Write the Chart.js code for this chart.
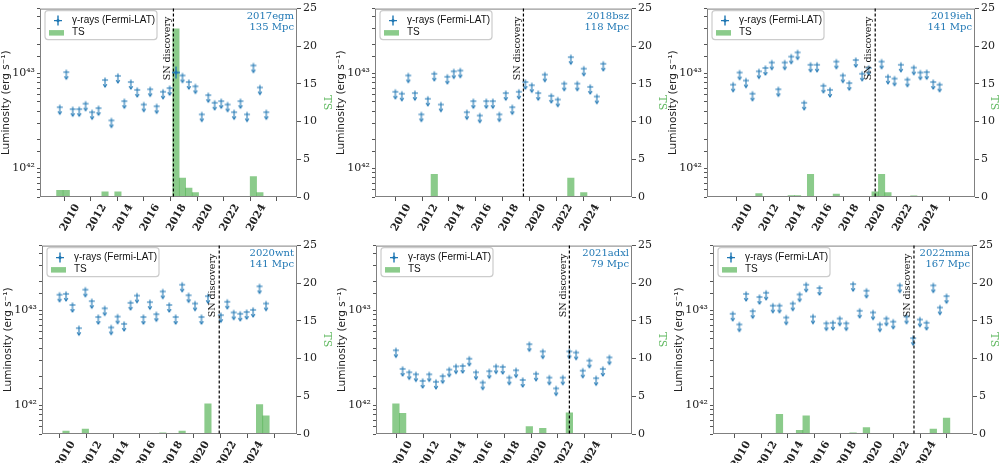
<!DOCTYPE html>
<html>
<head>
<meta charset="utf-8">
<script src="https://cdn.jsdelivr.net/npm/chart.js@4/dist/chart.umd.min.js"></script>
<style>
  body { margin: 0; background: #fff; }
  #wrap { position: relative; width: 1000px; height: 463px; overflow: hidden; }
  canvas { position: absolute; }
</style>
</head>
<body>
<div id="wrap"></div>
<script>
// luminosity values are in units of 1e42 erg/s (upper limits unless marked as detection)
const names = ["2017egm", "2018bsz", "2019ieh", "2020wnt", "2021adxl", "2022mma"];
const distances = ["135 Mpc", "118 Mpc", "141 Mpc", "141 Mpc", "79 Mpc", "167 Mpc"];
const snDates = [2017.22, 2018.53, 2019.41, 2020.9, 2021.85, 2022.52];
const detectionIndex = [18, -1, -1, -1, -1, -1];
const xTickYears = [2010, 2012, 2014, 2016, 2018, 2020, 2022, 2024];
const tsTicks = [0, 5, 10, 15, 20, 25];

const times2017egm = [2008.68, 2009.17, 2009.65, 2010.14, 2010.62, 2011.11, 2011.59, 2012.08, 2012.56, 2013.05, 2013.53, 2014.02, 2014.50, 2014.99, 2015.47, 2015.96, 2016.44, 2016.93, 2017.41, 2017.90, 2018.38, 2018.87, 2019.35, 2019.84, 2020.32, 2020.81, 2021.29, 2021.78, 2022.26, 2022.75, 2023.23, 2023.72, 2024.20];
const lum2017egm = [4.4, 10.3, 4.2, 4.2, 4.8, 3.9, 4.3, 8.5, 3.2, 9.4, 5.1, 8.1, 6.7, 4.7, 6.8, 4.5, 6.4, 7.0, 10.2, 9.5, 8.1, 7.3, 3.7, 5.9, 4.9, 5.1, 4.7, 3.9, 5.1, 3.7, 12.1, 7.1, 3.9];
const ts2017egm = [0.9, 0.9, 0, 0, 0, 0, 0, 0.7, 0, 0.7, 0, 0, 0, 0, 0, 0, 0, 0.1, 22.3, 2.5, 1.2, 0.6, 0, 0, 0, 0, 0, 0, 0, 0, 2.7, 0.6, 0];

const times2018bsz = [2009.02, 2009.50, 2009.98, 2010.47, 2010.95, 2011.43, 2011.91, 2012.40, 2012.88, 2013.36, 2013.84, 2014.33, 2014.81, 2015.29, 2015.77, 2016.26, 2016.74, 2017.22, 2017.70, 2018.19, 2018.67, 2019.15, 2019.63, 2020.12, 2020.60, 2021.08, 2021.56, 2022.05, 2022.53, 2023.01, 2023.49, 2023.98, 2024.46];
const lum2018bsz = [6.4, 6.1, 9.5, 6.2, 3.7, 5.4, 9.9, 4.7, 9.2, 10.5, 10.7, 3.9, 5.1, 3.6, 5.1, 5.1, 3.7, 6.2, 4.4, 6.4, 8.1, 7.5, 6.2, 9.7, 5.8, 5.3, 7.8, 14.8, 7.8, 11.2, 7.2, 5.7, 12.6];
const ts2018bsz = [0, 0, 0, 0, 0, 0, 3.0, 0, 0, 0, 0, 0, 0.05, 0, 0, 0, 0, 0, 0, 0, 0, 0, 0, 0, 0, 0, 0, 2.5, 0, 0.6, 0, 0, 0];

const times2019ieh = [2008.73, 2009.22, 2009.70, 2010.19, 2010.67, 2011.16, 2011.64, 2012.13, 2012.61, 2013.10, 2013.58, 2014.07, 2014.55, 2015.04, 2015.52, 2016.01, 2016.49, 2016.98, 2017.46, 2017.95, 2018.43, 2018.92, 2019.40, 2019.89, 2020.37, 2020.86, 2021.34, 2021.83, 2022.31, 2022.80, 2023.28, 2023.77, 2024.25];
const lum2019ieh = [7.6, 10.2, 8.4, 6.1, 10.5, 11.4, 13.0, 6.8, 13.0, 15.0, 16.6, 4.9, 12.3, 12.3, 7.4, 6.7, 13.3, 9.5, 7.9, 13.8, 9.9, 11.4, null, 13.3, 9.2, 8.8, 12.3, 8.6, 11.5, 10.2, 10.3, 8.1, 7.6];
const ts2019ieh = [0, 0, 0, 0, 0.45, 0, 0, 0, 0, 0.2, 0.2, 0, 3.0, 0.1, 0, 0, 0.4, 0, 0, 0, 0, 0, 0.7, 3.0, 0.6, 0, 0, 0, 0.15, 0, 0, 0, 0];

const times2020wnt = [2009.02, 2009.50, 2009.98, 2010.46, 2010.94, 2011.42, 2011.90, 2012.38, 2012.86, 2013.34, 2013.82, 2014.30, 2014.78, 2015.26, 2015.74, 2016.22, 2016.70, 2017.18, 2017.66, 2018.14, 2018.62, 2019.10, 2019.58, 2020.06, 2020.54, 2021.02, 2021.50, 2021.98, 2022.46, 2022.94, 2023.42, 2023.90, 2024.38];
const lum2020wnt = [14.6, 14.9, 11.4, 6.5, 16.5, 12.5, 8.5, 10.5, 6.6, 8.6, 7.2, 12.0, 14.3, 8.5, 12.2, 9.1, 15.8, 11.4, 8.5, 18.6, 14.4, 11.8, 8.5, 14.1, null, 8.9, 12.3, 9.5, 9.2, 9.6, 10.1, 17.9, 11.8];
const ts2020wnt = [0, 0.4, 0, 0, 0.65, 0, 0, 0, 0, 0, 0, 0, 0, 0, 0, 0, 0.15, 0, 0, 0.4, 0, 0, 0, 4.0, 0, 0, 0, 0, 0, 0, 0, 3.9, 2.4];

const times2021adxl = [2008.94, 2009.44, 2009.93, 2010.43, 2010.93, 2011.42, 2011.92, 2012.42, 2012.91, 2013.41, 2013.91, 2014.40, 2014.90, 2015.40, 2015.89, 2016.39, 2016.89, 2017.38, 2017.88, 2018.38, 2018.87, 2019.37, 2019.87, 2020.36, 2020.86, 2021.36, 2021.85, 2022.35, 2022.85, 2023.34, 2023.84, 2024.34, 2024.83];
const lum2021adxl = [3.8, 2.42, 2.23, 2.12, 1.81, 2.12, 1.77, 2.03, 2.38, 2.57, 2.6, 3.1, 2.23, 1.74, 2.29, 2.57, 2.54, 1.96, 2.34, 1.85, 4.4, 2.15, 3.7, 1.96, 1.51, 1.96, 3.7, 3.6, 2.32, 2.96, 1.93, 2.42, 3.2];
const ts2021adxl = [4.0, 2.75, 0, 0, 0, 0, 0, 0, 0, 0, 0, 0.1, 0, 0, 0, 0, 0, 0, 0, 0, 1.0, 0, 0.75, 0, 0, 0, 2.8, 0, 0, 0, 0, 0, 0];

const times2022mma = [2008.83, 2009.33, 2009.84, 2010.34, 2010.85, 2011.35, 2011.86, 2012.36, 2012.87, 2013.37, 2013.88, 2014.38, 2014.89, 2015.39, 2015.90, 2016.40, 2016.91, 2017.41, 2017.92, 2018.42, 2018.93, 2019.43, 2019.94, 2020.44, 2020.95, 2021.45, 2021.96, 2022.46, 2022.97, 2023.47, 2023.98, 2024.48, 2024.98];
const lum2022mma = [9.2, 7.1, 14.9, 9.8, 13.8, 15.3, 11.2, 11.2, 8.4, 11.8, 14.7, 18.6, 8.6, 17.2, 7.3, 7.4, 8.2, 7.3, 18.9, 9.9, 16.1, 9.5, 7.1, 8.2, 7.6, 18.3, 8.6, 5.1, 8.0, 7.4, 18.3, 10.7, 14.1];
const ts2022mma = [0, 0, 0, 0, 0, 0, 0, 2.6, 0, 0, 0.5, 2.4, 0, 0, 0, 0, 0, 0, 0.15, 0, 0.85, 0, 0, 0, 0, 0, 0, 0, 0, 0, 0.65, 0, 2.1];

const allTimes = [times2017egm, times2018bsz, times2019ieh, times2020wnt, times2021adxl, times2022mma];
const allLum = [lum2017egm, lum2018bsz, lum2019ieh, lum2020wnt, lum2021adxl, lum2022mma];
const allTs = [ts2017egm, ts2018bsz, ts2019ieh, ts2020wnt, ts2021adxl, ts2022mma];

// plot boxes on the page (left, right, top, bottom) and x limits in years
const boxes = [
  [40, 297, 5, 197], [375, 632, 5, 197], [707, 975, 5, 197],
  [42, 297, 242, 434], [376, 632, 242, 434], [713, 973, 242, 434]
];
const xLimits = [
  [2008.4, 2025.3], [2008.7, 2025.4], [2008.03, 2025.65],
  [2008.9, 2025.5], [2008.65, 2025.32], [2008.57, 2025.75]
];

const BLUE = "#1f77b4";
const GREEN_BAR = "rgba(44,160,44,0.55)";
const GREEN_TXT = "#5fb85f";

// upper limit marker: short cross bar with a down arrow, centred on the value
function makeArrow() {
  const c = document.createElement("canvas");
  c.width = 8; c.height = 20;
  const g = c.getContext("2d");
  g.strokeStyle = BLUE; g.lineWidth = 1.1;
  g.beginPath();
  g.moveTo(1, 10); g.lineTo(7, 10);
  g.moveTo(4, 7.5); g.lineTo(4, 16.5);
  g.stroke();
  g.beginPath();
  g.moveTo(2.2, 14.2); g.lineTo(4, 17); g.lineTo(5.8, 14.2);
  g.stroke();
  return c;
}
function makeDetection() {
  const c = document.createElement("canvas");
  c.width = 10; c.height = 16;
  const g = c.getContext("2d");
  g.strokeStyle = BLUE; g.fillStyle = BLUE; g.lineWidth = 1.3;
  g.beginPath();
  g.moveTo(1, 8); g.lineTo(9, 8);
  g.moveTo(5, 2); g.lineTo(5, 14);
  g.stroke();
  g.beginPath(); g.arc(5, 8, 1.8, 0, Math.PI * 2); g.fill();
  return c;
}
const arrowImg = makeArrow();
const detImg = makeDetection();

const extrasPlugin = {
  id: "extras",
  afterDraw(chart, args, opts) {
    const { ctx, chartArea: a } = chart;
    const xs = chart.scales.x;
    ctx.save();
    // frame
    ctx.strokeStyle = "#808080"; ctx.lineWidth = 1;
    ctx.strokeRect(a.left + 0.5, a.top + 0.5, a.right - a.left - 1, a.bottom - a.top - 1);
    // discovery line
    const lx = xs.getPixelForValue(opts.sn);
    ctx.strokeStyle = "#000"; ctx.setLineDash([3, 2]); ctx.lineWidth = 1.2;
    ctx.beginPath(); ctx.moveTo(lx, a.top); ctx.lineTo(lx, a.bottom); ctx.stroke();
    ctx.setLineDash([]);
    ctx.save();
    ctx.translate(lx - 1.5, a.top + 8);
    ctx.rotate(-Math.PI / 2);
    ctx.fillStyle = "#111"; ctx.font = '9.5px "DejaVu Serif"';
    ctx.textAlign = "right"; ctx.textBaseline = "bottom";
    ctx.fillText("SN discovery", 0, 0);
    ctx.restore();
    // name + distance
    ctx.fillStyle = BLUE; ctx.font = '10px "DejaVu Serif"';
    ctx.textAlign = "right"; ctx.textBaseline = "middle";
    ctx.fillText(opts.name, a.right - 3, a.top + 8);
    ctx.fillText(opts.dist, a.right - 3, a.top + 19);
    // legend
    const bx = a.left + 5, by = a.top + 2;
    ctx.fillStyle = "rgba(255,255,255,0.85)"; ctx.strokeStyle = "#cccccc";
    ctx.beginPath(); ctx.roundRect(bx, by, 112, 29, 3); ctx.fill(); ctx.stroke();
    ctx.strokeStyle = BLUE; ctx.lineWidth = 1.4;
    ctx.beginPath();
    ctx.moveTo(bx + 9, by + 10); ctx.lineTo(bx + 17, by + 10);
    ctx.moveTo(bx + 13, by + 5); ctx.lineTo(bx + 13, by + 15);
    ctx.stroke();
    ctx.fillStyle = BLUE;
    ctx.beginPath(); ctx.arc(bx + 13, by + 10, 1.6, 0, Math.PI * 2); ctx.fill();
    ctx.fillStyle = GREEN_BAR;
    ctx.fillRect(bx + 4, by + 19.5, 15, 5.5);
    ctx.fillStyle = "#111"; ctx.font = '10px "Liberation Sans"';
    ctx.textAlign = "left"; ctx.textBaseline = "middle";
    ctx.fillText("\u03b3-rays (Fermi-LAT)", bx + 27, by + 10);
    ctx.fillText("TS", bx + 27, by + 22);
    ctx.restore();
  }
};

const wrap = document.getElementById("wrap");
const tickFont = { family: "DejaVu Serif", size: 10.5, weight: "bold" };

names.forEach((name, i) => {
  const [L, R, T, B] = boxes[i];
  const leftW = 40;
  const rightW = Math.min(36, 1000 - R);
  const xH = i < 3 ? 34 : 29;
  const cv = document.createElement("canvas");
  const w = R - L + leftW + rightW, h = B - T + 5 + xH;
  cv.width = w; cv.height = h;
  cv.style.left = (L - leftW) + "px"; cv.style.top = (T - 5) + "px";
  cv.style.width = w + "px"; cv.style.height = h + "px";
  wrap.appendChild(cv);

  const times = allTimes[i];
  const lumPts = times.map((t, k) => ({ x: t, y: allLum[i][k] }));
  const tsPts = times.map((t, k) => ({ x: t, y: allTs[i][k] }));
  const det = detectionIndex[i];

  new Chart(cv, {
    type: "bar",
    data: {
      datasets: [
        {
          type: "scatter", data: lumPts, yAxisID: "y", order: 0,
          pointStyle: (c) => (c.dataIndex === det ? detImg : arrowImg),
          pointRadius: 5
        },
        {
          type: "bar", data: tsPts, yAxisID: "y2", order: 1,
          backgroundColor: GREEN_BAR, borderWidth: 0,
          barPercentage: 1, categoryPercentage: 1
        }
      ]
    },
    options: {
      responsive: false, animation: false, devicePixelRatio: 1,
      layout: { padding: { top: 5, left: 0, right: 0, bottom: 0 } },
      plugins: {
        legend: { display: false }, tooltip: { enabled: false },
        extras: { sn: snDates[i], name: name, dist: distances[i] }
      },
      scales: {
        x: {
          type: "linear", min: xLimits[i][0], max: xLimits[i][1],
          afterBuildTicks: (s) => { s.ticks = xTickYears.map((v) => ({ value: v })); },
          afterFit: (s) => { s.height = xH; },
          grid: { drawOnChartArea: false, tickLength: 4, color: "#555" },
          border: { display: false },
          ticks: {
            font: tickFont, color: "#222", minRotation: 60, maxRotation: 60,
            padding: 1, autoSkip: false, callback: (v) => String(v)
          }
        },
        y: {
          type: "logarithmic", position: "left", min: 0.5, max: 48,
          afterFit: (s) => { s.width = leftW; },
          grid: { drawOnChartArea: false, tickLength: 3, color: "#555" },
          border: { display: false },
          ticks: {
            font: { family: "DejaVu Serif", size: 11 }, color: "#222", autoSkip: false, padding: 2,
            callback: (v) => (v === 1 ? "10\u2074\u00b2" : v === 10 ? "10\u2074\u00b3" : "")
          },
          title: {
            display: true, text: "Luminosity (erg s\u207b\u00b9)", color: "#222",
            font: { family: "DejaVu Sans", size: 10.5 }, padding: 0
          }
        },
        y2: {
          type: "linear", position: "right", min: 0, max: 25,
          afterBuildTicks: (s) => { s.ticks = tsTicks.map((v) => ({ value: v })); },
          afterFit: (s) => { s.width = rightW; },
          grid: { drawOnChartArea: false, tickLength: 4, color: "#555" },
          border: { display: false },
          ticks: { font: { family: "DejaVu Serif", size: 11 }, color: "#222", padding: 2 },
          title: {
            display: true, text: "TS", color: GREEN_TXT,
            font: { family: "DejaVu Serif", size: 11 }, padding: 0
          }
        }
      }
    },
    plugins: [extrasPlugin]
  });
});
</script>
</body>
</html>
